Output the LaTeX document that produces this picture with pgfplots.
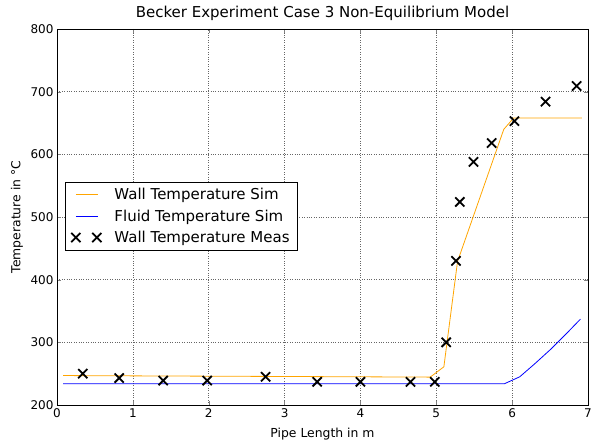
\documentclass[border=0pt]{standalone}
\usepackage{pgfplots}
\pgfplotsset{compat=1.18}
\usepackage{fontspec}
\setmainfont{DejaVu Sans}
\pgfplotsset{
  twox legend/.style={legend image code/.code={\draw[##1] plot coordinates {(0pt,0pt) (21pt,0pt)};}},
  myline legend/.style={legend image code/.code={\draw[##1] (0pt,0pt) -- (22pt,0pt);}},
}
\begin{document}
\begin{tikzpicture}
\begin{axis}[
  scale only axis,
  width=531pt, height=376pt,
  xmin=0, xmax=7, ymin=200, ymax=800,
  xtick={0,1,2,3,4,5,6,7},
  ytick={200,300,400,500,600,700,800},
  /pgf/number format/assume math mode=true,
  ticklabel style={font=\fontsize{12}{14}\selectfont},
  label style={font=\fontsize{12.4}{14}\selectfont},
  title style={font=\fontsize{15}{17}\selectfont, at={(axis description cs:0.5,1)}, anchor=base, yshift=5pt},
  title={Becker Experiment Case 3 Non-Equilibrium Model},
  xlabel={Pipe Length in m},
  ylabel={Temperature in °C},
  xlabel style={at={(axis description cs:0.5,0)}, anchor=base, yshift=-32pt},
  ylabel style={at={(axis description cs:0,0.5)}, anchor=center, yshift=40pt},
  grid=major,
  grid style={dotted, black!60, line width=0.6pt},
  major tick length=4pt,
  tick align=inside,
  axis line style={line width=0.8pt},
  legend style={at={(rel axis cs:0.015,0.593)}, anchor=north west,
    font=\fontsize{15}{17}\selectfont, draw=black, line width=0.6pt,
    row sep=4.5pt, inner xsep=6pt, inner ysep=4pt,
    /tikz/every odd column/.append style={column sep=11pt}},
  legend cell align=left,
]
\coordinate (sw) at (rel axis cs:0,0);
\coordinate (ne) at (rel axis cs:1,1);
\addplot[color={rgb,255:red,255;green,165;blue,0}, line width=0.8pt, myline legend] coordinates {
(0.08,247) (1,246.5) (2,246) (3,245.5) (4,245) (4.92,244.5) (5.10,261) (5.28,429) (5.89,640) (6.02,658) (6.92,658)
};
\addlegendentry{Wall Temperature Sim}
\addplot[color=blue, line width=0.8pt, myline legend] coordinates {
(0.08,234) (2,234) (4,234) (5.9,234) (6.1,245) (6.3,266) (6.5,288) (6.7,312) (6.9,337)
};
\addlegendentry{Fluid Temperature Sim}
\addplot[only marks, mark=x, mark size=6.5pt, line width=1.8pt, color=black, twox legend] coordinates {
(0.34,250) (0.82,243) (1.40,239) (1.98,239) (2.75,245) (3.43,237) (4.0,237) (4.66,237) (4.98,237)
(5.13,300) (5.26,430) (5.31,524) (5.49,588) (5.73,618) (6.03,653) (6.44,684) (6.85,709)
};
\addlegendentry{Wall Temperature Meas}
\end{axis}
\pgfresetboundingbox
\path[use as bounding box] ([shift={(-57pt,-36pt)}]sw) rectangle ([shift={(4pt,29pt)}]ne);
\end{tikzpicture}
\end{document}
